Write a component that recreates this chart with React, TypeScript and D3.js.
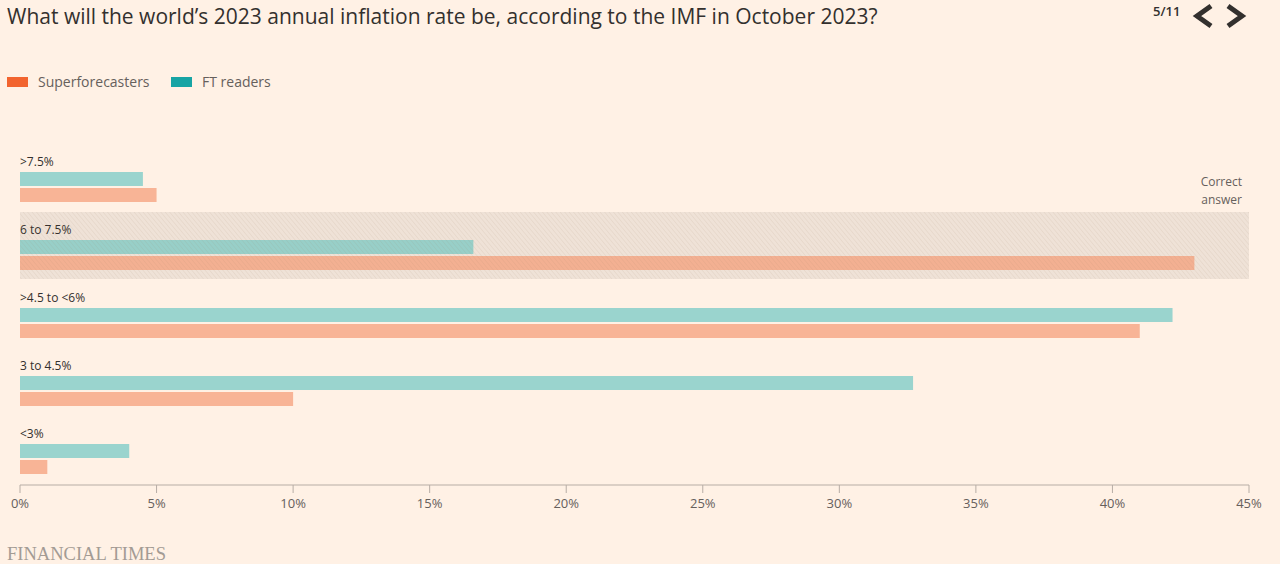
import React from "react";
import * as d3 from "d3";

const categories = [">7.5%", "6 to 7.5%", ">4.5 to <6%", "3 to 4.5%", "<3%"];
const ftReaders = [4.5, 16.6, 42.2, 32.7, 4.0];
const superforecasters = [5.0, 43.0, 41.0, 10.0, 1.0];
const xTicks = [0, 5, 10, 15, 20, 25, 30, 35, 40, 45];
const correctCategory = "6 to 7.5%";
const seriesNames = ["Superforecasters", "FT readers"];

const W = 1280;
const H = 564;
const BG = "#fff1e5";
const TEXT = "#33302e";
const MUTED = "#66605c";

export default function App() {
  const x = d3.scaleLinear().domain([0, 45]).range([20, 1249]);
  const y = d3.scaleBand<string>().domain(categories).range([150, 490]);
  const barH = 14;
  const axisY = 485;
  const font = "'Open Sans', 'Noto Sans', sans-serif";
  const bandY = (y(correctCategory) as number) - 6;

  return (
    <div style={{ position: "fixed", left: 0, top: 0, width: W, height: H, background: BG }}>
      <svg width={W} height={H} style={{ display: "block" }} fontFamily={font}>
        <defs>
          <pattern id="hatch" patternUnits="userSpaceOnUse" width={3.4} height={3.4} patternTransform="rotate(-40)">
            <line x1={0} y1={0} x2={0} y2={3.4} stroke="#9a7a60" strokeOpacity={0.13} strokeWidth={1.3} />
          </pattern>
        </defs>
        <rect x={0} y={0} width={W} height={H} fill={BG} />

        <text x={7} y={24} fontSize={21} fill={TEXT}>
          What will the world’s 2023 annual inflation rate be, according to the IMF in October 2023?
        </text>

        <text x={1153} y={16} fontSize={13} fontWeight={600} fill={TEXT}>5/11</text>
        <polyline points="1211,6 1197,16 1211,26" fill="none" stroke={TEXT} strokeWidth={5} strokeLinejoin="miter" />
        <polyline points="1228,6 1242,16 1228,26" fill="none" stroke={TEXT} strokeWidth={5} strokeLinejoin="miter" />

        <g>
          <rect x={7} y={77} width={21} height={10} fill="#f2642f" />
          <text x={38} y={87} fontSize={14} fill={MUTED}>{seriesNames[0]}</text>
          <rect x={171} y={77} width={21} height={10} fill="#17a4a4" />
          <text x={202} y={87} fontSize={14} fill={MUTED}>{seriesNames[1]}</text>
        </g>

        {/* correct answer band base */}
        <rect x={x(0)} y={bandY} width={x(45) - x(0)} height={67} fill="#f4e8dd" />

        {categories.map((c, i) => {
          const y0 = y(c) as number;
          return (
            <g key={c}>
              <text x={x(0)} y={y0 + 16} fontSize={12} fill={TEXT}>{c}</text>
              <rect x={x(0)} y={y0 + 22} width={x(ftReaders[i]) - x(0)} height={barH} fill="#9ad4ce" />
              <rect x={x(0)} y={y0 + 38} width={x(superforecasters[i]) - x(0)} height={barH} fill="#f8b496" />
            </g>
          );
        })}

        {/* hatch overlay */}
        <rect x={x(0)} y={bandY} width={x(45) - x(0)} height={67} fill="rgba(90,60,30,0.03)" />
        <rect x={x(0)} y={bandY} width={x(45) - x(0)} height={67} fill="url(#hatch)" />

        <text x={1242} y={186} fontSize={12} fill={MUTED} textAnchor="end">Correct</text>
        <text x={1242} y={204} fontSize={12} fill={MUTED} textAnchor="end">answer</text>

        <line x1={x(0)} x2={x(45)} y1={axisY} y2={axisY} stroke="#b7ada5" strokeWidth={1} />
        {xTicks.map((t) => (
          <g key={t}>
            <line x1={x(t)} x2={x(t)} y1={axisY} y2={axisY + 8} stroke="#b7ada5" strokeWidth={1} />
            <text x={x(t)} y={508} fontSize={13} fill={MUTED} textAnchor="middle">{t}%</text>
          </g>
        ))}

        <text x={7} y={560} fontSize={18} fill="#a39b94" fontFamily="'Liberation Serif', 'DejaVu Serif', serif" textLength={159} lengthAdjust="spacingAndGlyphs">
          FINANCIAL TIMES
        </text>
      </svg>
    </div>
  );
}
